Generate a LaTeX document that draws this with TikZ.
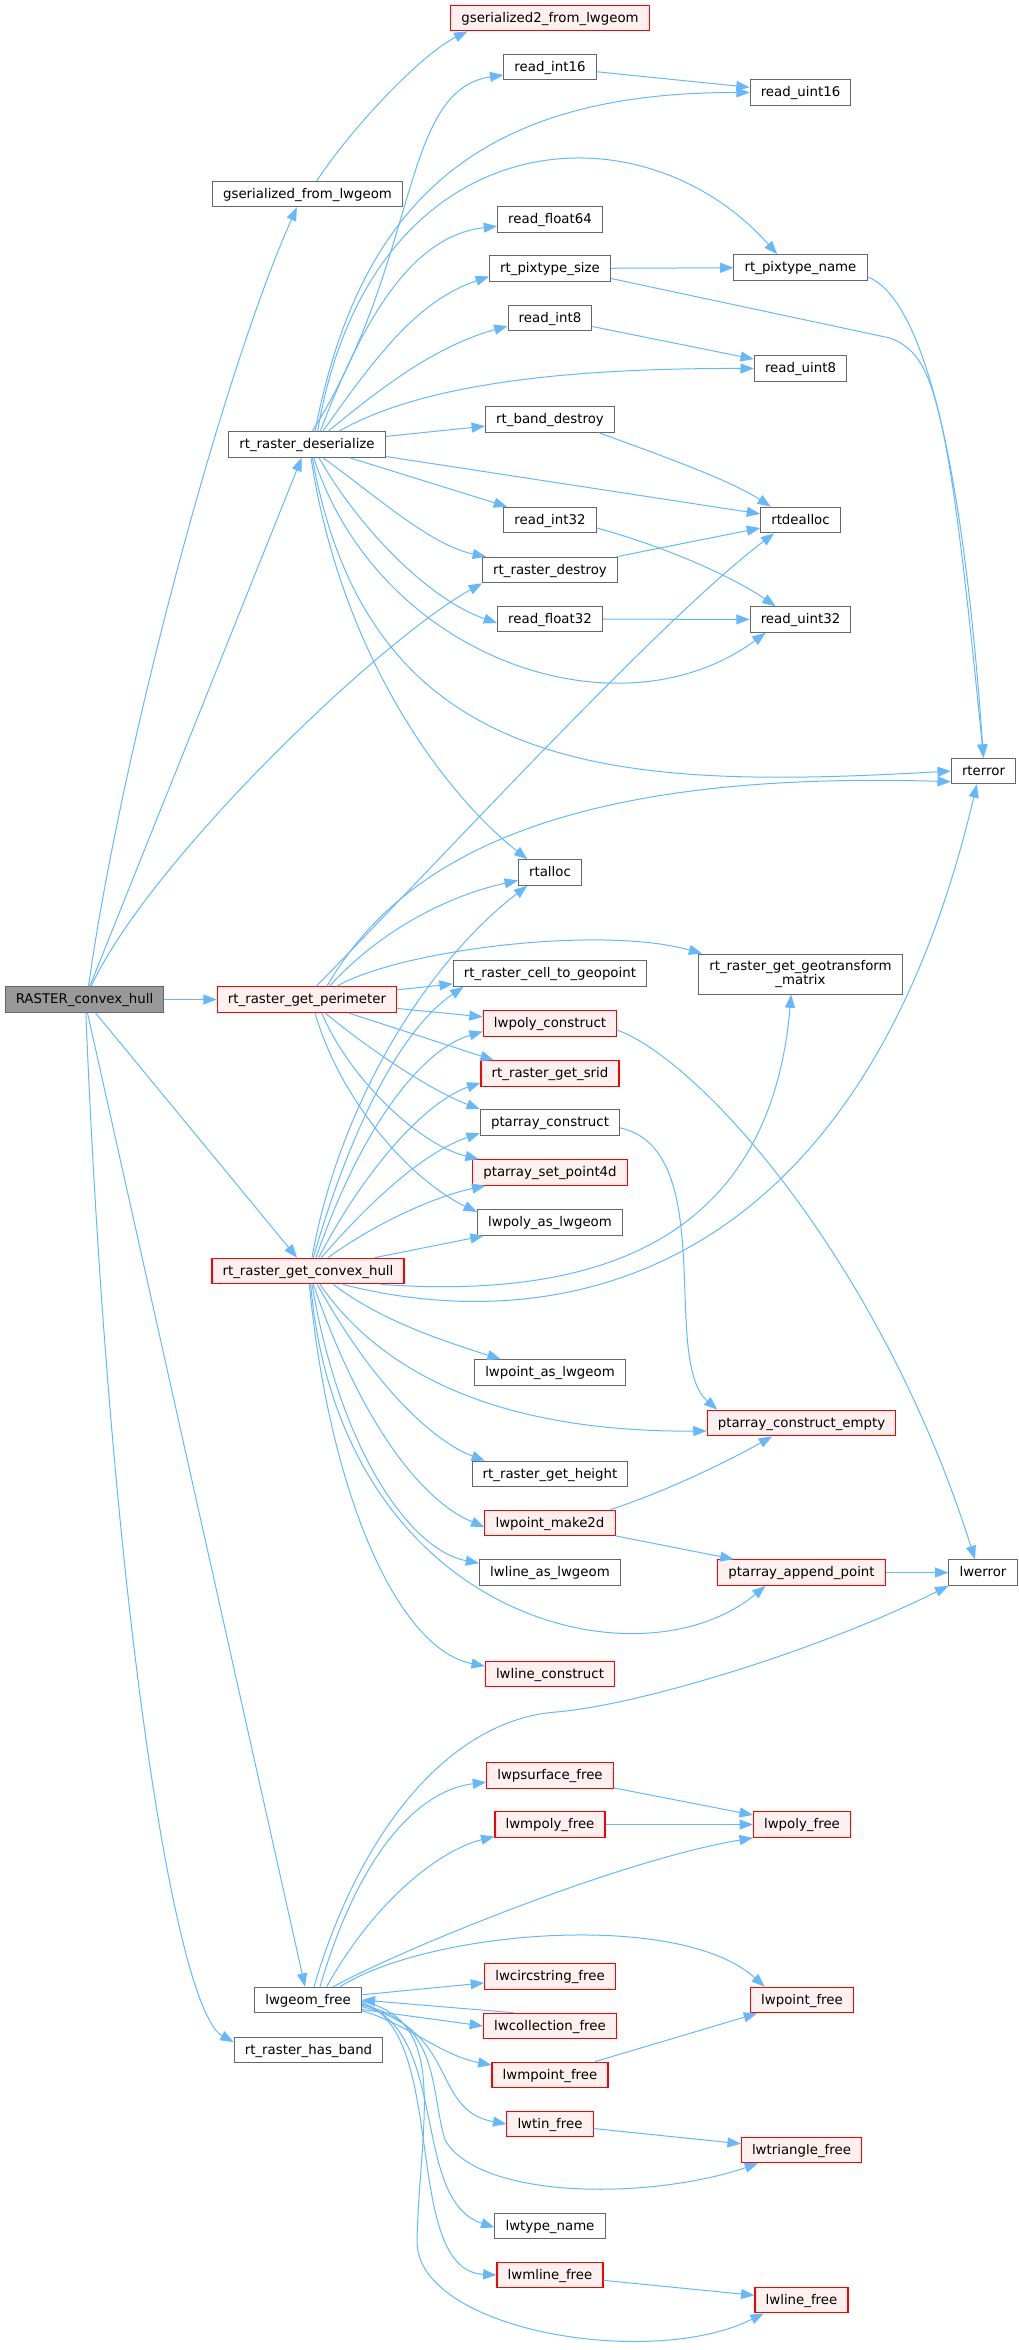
\documentclass[tikz,border=0pt]{standalone}
\usepackage{fontspec}
\setmainfont{DejaVu Sans}
\usetikzlibrary{arrows.meta}

\definecolor{edgeblue}{HTML}{63B8FF}
\definecolor{boxgray}{HTML}{666666}
\definecolor{rootgray}{HTML}{999999}
\definecolor{truncfill}{HTML}{FFF0F0}

\tikzset{
  fnbase/.style={draw=boxgray, fill=white, line width=0.75pt, inner xsep=8pt, inner ysep=0pt, font=\fontsize{10}{11.2}\selectfont},
  fn/.style={fnbase, minimum height=19.2pt, text height=8.2pt, text depth=1.8pt},
  fntrunc/.style={fn, draw=red, fill=truncfill, line width=0.85pt},
  fnroot/.style={fn, fill=rootgray},
  call/.style={draw=edgeblue, line width=0.75pt, -{Triangle[length=10pt,width=7.5pt]}},
}

\begin{document}
\begin{tikzpicture}[x=0.75pt, y=-0.75pt]
        \useasboundingbox (0,0) rectangle (1019,2350);

        % Callers
        \node[fnroot] (R) at (84.5,999.5) {RASTER\_convex\_hull};
        \node[fn] (gsf) at (307.5,194) {gserialized\_from\_lwgeom};
        \node[fn] (D) at (307,444.5) {rt\_raster\_deserialize};
        \node[fntrunc] (P) at (307,999.5) {rt\_raster\_get\_perimeter};
        \node[fntrunc] (C) at (308,1271) {rt\_raster\_get\_convex\_hull};
        \node[fn] (G) at (308,2000) {lwgeom\_free};
        \node[fn] (hb) at (308.5,2050) {rt\_raster\_has\_band};

        % Middle column
        \node[fntrunc] (gs2) at (550,18) {gserialized2\_from\_lwgeom};
        \node[fn] (ri16) at (550,67) {read\_int16};
        \node[fn] (rf64) at (550,219.5) {read\_float64};
        \node[fn] (pts) at (550,268.5) {rt\_pixtype\_size};
        \node[fn] (ri8) at (550,318) {read\_int8};
        \node[fn] (bd) at (550,419.5) {rt\_band\_destroy};
        \node[fn] (ri32) at (550,520) {read\_int32};
        \node[fn] (rd) at (550,570) {rt\_raster\_destroy};
        \node[fn] (rf32) at (550,619) {read\_float32};
        \node[fn] (ra) at (550,872.5) {rtalloc};
        \node[fn] (cg) at (550,973.5) {rt\_raster\_cell\_to\_geopoint};
        \node[fntrunc] (lpc) at (550,1023.5) {lwpoly\_construct};
        \node[fntrunc] (srid) at (550,1073.5) {rt\_raster\_get\_srid};
        \node[fn] (pc) at (550,1122.5) {ptarray\_construct};
        \node[fntrunc] (sp4) at (550,1172.5) {ptarray\_set\_point4d};
        \node[fn] (lpg) at (550,1222.5) {lwpoly\_as\_lwgeom};
        \node[fn] (lptg) at (550,1372.5) {lwpoint\_as\_lwgeom};
        \node[fn] (rgh) at (550,1474) {rt\_raster\_get\_height};
        \node[fntrunc] (pm2) at (550,1523) {lwpoint\_make2d};
        \node[fn] (llg) at (550,1572.5) {lwline\_as\_lwgeom};
        \node[fntrunc] (llc) at (550,1674) {lwline\_construct};
        \node[fntrunc] (psf) at (550,1775.5) {lwpsurface\_free};
        \node[fntrunc] (mpf) at (550,1824.5) {lwmpoly\_free};
        \node[fntrunc] (csf) at (550,1976.5) {lwcircstring\_free};
        \node[fntrunc] (colf) at (550,2026) {lwcollection\_free};
        \node[fntrunc] (mptf) at (550,2075) {lwmpoint\_free};
        \node[fntrunc] (tinf) at (550,2124) {lwtin\_free};
        \node[fn] (ltn) at (550,2226) {lwtype\_name};
        \node[fntrunc] (mlf) at (550,2275) {lwmline\_free};

        % Right columns
        \node[fn] (ru16) at (800.5,92.5) {read\_uint16};
        \node[fn] (ptn) at (800.5,267.5) {rt\_pixtype\_name};
        \node[fn] (ru8) at (800.5,368.5) {read\_uint8};
        \node[fn] (rda) at (800.5,520) {rtdealloc};
        \node[fn] (ru32) at (800.5,619.5) {read\_uint32};
        \node[fnbase, align=center, minimum height=30pt] (gt) at (800.5,974) {rt\_raster\_get\_geotransform\\\_matrix};
        \node[fntrunc] (pce) at (801.5,1423) {ptarray\_construct\_empty};
        \node[fntrunc] (pap) at (801.5,1572.5) {ptarray\_append\_point};
        \node[fntrunc] (lpf) at (802,1824.5) {lwpoly\_free};
        \node[fntrunc] (lptf) at (802,2000) {lwpoint\_free};
        \node[fntrunc] (ltf) at (801.5,2150) {lwtriangle\_free};
        \node[fntrunc] (llf) at (801.5,2300) {lwline\_free};
        \node[fn] (rte) at (983.5,771) {rterror};
        \node[fn] (lwe) at (983,1572.5) {lwerror};

        % RASTER_convex_hull calls
        \draw[call] ([xshift=3pt]R.north) .. controls (120,760) and (220,380) .. ([xshift=-8pt]gsf.south);
        \draw[call] (R) -- (D);
        \draw[call] ([xshift=5pt]R.north) .. controls (150,860) and (380,640) .. (rd.south west);
        \draw[call] (R) -- (P);
        \draw[call] (R) -- (C);
        \draw[call] (R) -- (G);
        \draw[call] ([xshift=1pt]R.south) .. controls (110,1600) and (175,2010) .. ([yshift=-4pt]hb.north west);
        \draw[call] ([xshift=7pt]gsf.north) .. controls (350,130) and (420,55) .. ([xshift=13pt]gs2.south west);

        % rt_raster_deserialize calls
        \draw[call] ([xshift=4pt]D.north) .. controls (420,260) and (400,90) .. ([yshift=-6pt]ri16.west);
        \draw[call] ([xshift=6pt]D.north) .. controls (360,200) and (480,92) .. (ru16.west);
        \draw[call] ([xshift=8pt]D.north) .. controls (370,120) and (640,100) .. ([xshift=-17.5pt]ptn.north);
        \draw[call] ([xshift=10pt]D.north) .. controls (370,300) and (420,235) .. ([yshift=-5pt]rf64.west);
        \draw[call] ([xshift=12pt]D.north) .. controls (380,350) and (420,300) .. ([yshift=-6pt]pts.west);
        \draw[call] ([xshift=16pt]D.north) .. controls (390,380) and (440,345) .. ([yshift=-6pt]ri8.west);
        \draw[call] ([xshift=24pt]D.north) .. controls (420,385) and (560,368) .. (ru8.west);
        \draw[call] (D) -- (bd);
        \draw[call] (D) -- (rda);
        \draw[call] (D) -- (ri32);
        \draw[call] ([xshift=12pt]D.south) .. controls (375,495) and (430,545) .. ([xshift=3pt]rd.north west);
        \draw[call] ([xshift=9pt]D.south) .. controls (360,530) and (430,600) .. ([yshift=-3pt]rf32.west);
        \draw[call] ([xshift=5pt]D.south) .. controls (380,660) and (620,740) .. ([xshift=12pt]ru32.south west);
        \draw[call] ([xshift=4pt]D.south) .. controls (370,780) and (620,790) .. (rte.west);
        \draw[call] ([xshift=3pt]D.south) .. controls (340,650) and (440,790) .. ([xshift=7pt]ra.north west);

        % second level
        \draw[call] (ri16) -- (ru16);
        \draw[call] (pts) -- (ptn);
        \draw[call] (ri8) -- (ru8);
        \draw[call] (rf32) -- (ru32);
        \draw[call] (rd) -- (rda);
        \draw[call] ([yshift=-7.5pt]pts.east) -- (890,338) .. controls (935,355) and (948,400) .. (rte.north);
        \draw[call] ([yshift=-7pt]ptn.east) .. controls (915,295) and (960,420) .. (rte.north);
        \draw[call] ([xshift=-12pt]bd.south east) .. controls (660,455) and (730,480) .. ([xshift=8pt]rda.north west);
        \draw[call] ([yshift=-6pt]ri32.east) .. controls (660,545) and (730,575) .. ([xshift=19.5pt]ru32.north west);

        % rt_raster_get_perimeter calls
        \draw[call] ([xshift=7pt]P.north) .. controls (450,850) and (660,620) .. ([xshift=10.5pt]rda.south west);
        \draw[call] ([xshift=15pt]P.north) .. controls (400,860) and (560,770) .. ([yshift=-8pt]rte.west);
        \draw[call] ([xshift=17pt]P.north) .. controls (380,930) and (450,895) .. ([yshift=-6pt]ra.west);
        \draw[call] ([xshift=22.5pt]P.north) .. controls (400,950) and (600,925) .. ([xshift=3pt]gt.north west);
        \draw[call] (P) -- (cg);
        \draw[call] (P) -- (lpc);
        \draw[call] (P) -- ([xshift=10pt]srid.north west);
        \draw[call] ([xshift=13.5pt]P.south) .. controls (370,1050) and (430,1090) .. (pc.north west);
        \draw[call] ([xshift=11pt]P.south) .. controls (350,1080) and (420,1145) .. ([xshift=5pt]sp4.north west);
        \draw[call] ([xshift=6pt]P.south) .. controls (340,1100) and (410,1180) .. ([yshift=-2pt]lpg.north west);

        % rt_raster_get_convex_hull calls
        \draw[call] ([xshift=3pt]C.north) .. controls (340,1100) and (430,960) .. ([xshift=7pt]ra.south west);
        \draw[call] ([xshift=4pt]C.north) .. controls (350,1130) and (400,1030) .. ([xshift=8pt]cg.south west);
        \draw[call] ([xshift=6pt]C.north) .. controls (360,1130) and (420,1050) .. ([yshift=-6pt]lpc.west);
        \draw[call] ([xshift=8pt]C.north) .. controls (370,1160) and (430,1100) .. ([yshift=-7pt]srid.west);
        \draw[call] ([xshift=10pt]C.north) .. controls (380,1190) and (430,1150) .. ([yshift=-8pt]pc.west);
        \draw[call] ([xshift=15pt]C.north) .. controls (380,1220) and (440,1195) .. ([xshift=10pt]sp4.south west);
        \draw[call] (C) -- (lpg);
        \draw[call] ([xshift=26pt]C.south) .. controls (560,1340) and (860,1280) .. ([xshift=-5pt]rte.south);
        \draw[call] ([xshift=-18pt]C.south east) .. controls (600,1300) and (770,1240) .. ([xshift=-7pt]gt.south);
        \draw[call] ([xshift=19pt]C.south) .. controls (380,1320) and (440,1340) .. ([xshift=20pt]lptg.north west);
        \draw[call] ([xshift=9pt]C.south) .. controls (400,1400) and (550,1432) .. ([yshift=-6pt]pce.west);
        \draw[call] ([xshift=7pt]C.south) .. controls (370,1380) and (430,1440) .. ([xshift=10pt]rgh.north west);
        \draw[call] ([xshift=4pt]C.south) .. controls (360,1420) and (420,1500) .. ([yshift=-3pt]pm2.west);
        \draw[call] ([xshift=3pt]C.south) .. controls (340,1450) and (410,1550) .. ([yshift=7pt]llg.west);
        \draw[call] ([xshift=2pt]C.south) .. controls (340,1620) and (640,1690) .. ([xshift=-27pt]pap.south);
        \draw[call] ([xshift=1pt]C.south) .. controls (330,1500) and (400,1650) .. ([yshift=6pt]llc.west);

        % geometry helpers
        \draw[call] ([yshift=-5pt]lpc.east) .. controls (700,1060) and (880,1260) .. ([xshift=-6pt]lwe.north);
        \draw[call] ([yshift=-4pt]pc.east) .. controls (720,1150) and (660,1360) .. ([xshift=8pt]pce.north west);
        \draw[call] ([xshift=-4pt]pm2.north east) .. controls (670,1490) and (730,1460) .. ([xshift=-22pt]pce.south);
        \draw[call] (pm2) -- (pap);
        \draw[call] (pap) -- (lwe);

        % lwgeom_free calls
        \draw[call] ([xshift=4.5pt]G.north) .. controls (360,1830) and (450,1720) .. (556,1712) .. controls (640,1705) and (820,1650) .. (lwe.south west);
        \draw[call] ([xshift=9pt]G.north) .. controls (360,1850) and (420,1790) .. ([yshift=-5pt]psf.west);
        \draw[call] ([xshift=14pt]G.north) .. controls (375,1900) and (440,1850) .. ([yshift=-9pt]mpf.west);
        \draw[call] (psf) -- (lpf);
        \draw[call] (mpf) -- (lpf);
        \draw[call] ([xshift=19pt]G.north) .. controls (400,1950) and (620,1860) .. (lpf.south west);
        \draw[call] ([xshift=24pt]G.north) .. controls (430,1930) and (680,1910) .. ([xshift=-28pt]lptf.north);
        \draw[call] (G) -- (csf);
        \draw[call] (colf.160) -- (G.east);
        \draw[call] (G.-10) -- (colf.west);
        \draw[call] ([yshift=-8pt]G.east) .. controls (410,2025) and (440,2055) .. ([yshift=7.5pt]mptf.west);
        \draw[call] ([yshift=-5pt]G.east) .. controls (460,2030) and (430,2110) .. (tinf.west);
        \draw[call] ([yshift=-4pt]G.east) .. controls (440,2020) and (430,2090) .. (445,2140) .. controls (480,2200) and (650,2200) .. ([xshift=13pt]ltf.south west);
        \draw[call] ([yshift=-3pt]G.east) .. controls (450,2030) and (410,2200) .. ([yshift=-1pt]ltn.west);
        \draw[call] ([yshift=-2pt]G.east) .. controls (450,2030) and (400,2270) .. (mlf.west);
        \draw[call] ([yshift=-1pt]G.east) .. controls (450,2020) and (420,2120) .. (417,2240) .. controls (415,2330) and (650,2370) .. ([xshift=7pt]llf.south west);
        \draw[call] (mptf) -- (lptf);
        \draw[call] (tinf) -- (ltf);
        \draw[call] (mlf) -- (llf);
    \end{tikzpicture}
\end{document}
